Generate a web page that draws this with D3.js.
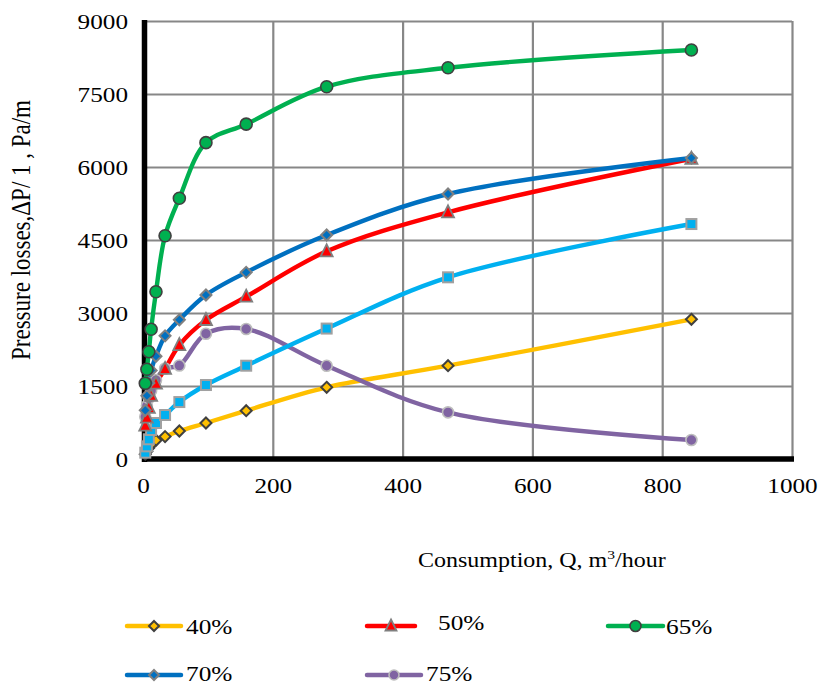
<!DOCTYPE html>
<html><head><meta charset="utf-8">
<script src="https://cdn.jsdelivr.net/npm/d3@7"></script>
<style>body{margin:0;background:#fff} svg{display:block} text{font-family:"Liberation Serif","Times New Roman",serif;fill:#000}</style>
</head><body>
<svg id="c" width="819" height="685"></svg>
<script>
// ---- data ----
const Q = [3.5, 6, 9, 12.5, 20, 34, 56, 97, 159, 283, 470, 845];
const s40 = [100, 160, 230, 300, 385, 460, 575, 740, 993, 1473, 1917, 2870];
const s50 = [685, 850, 1050, 1300, 1550, 1850, 2340, 2856, 3335, 4267, 5069, 6170];
const s65 = [1555, 1843, 2205, 2665, 3437, 4588, 5357, 6500, 6880, 7650, 8040, 8404];
const s70 = [1000, 1300, 1560, 1820, 2110, 2530, 2860, 3370, 3835, 4602, 5445, 6185];
const s75 = [869, 1095, 1247, 1400, 1620, 1860, 1920, 2575, 2671, 1917, 959, 390];
const sExtra = [130, 260, 405, 596, 740, 904, 1170, 1520, 1917, 2680, 3733, 4828];
const xTicks = [0, 200, 400, 600, 800, 1000];
const yTicks = [0, 1500, 3000, 4500, 6000, 7500, 9000];
const legendNames = ["40%", "50%", "65%", "70%", "75%"];

const svg = d3.select("#c");
svg.append("rect").attr("width", 819).attr("height", 685).attr("fill", "#fff");
const L = 143, R = 792, T = 21, B = 459;
const x = d3.scaleLinear().domain([0, 1000]).range([L, R]);
const y = d3.scaleLinear().domain([0, 9000]).range([B, T]);
const SX = 1.2;

// grid + y labels
const gy = svg.append("g").attr("transform", `translate(${L},0)`)
  .call(d3.axisLeft(y).tickValues(yTicks).tickSize(-(R - L)).tickPadding(0).tickFormat(d3.format("d")));
gy.select(".domain").remove();
gy.selectAll("line").attr("stroke", "#878787").attr("stroke-width", 2.2);
gy.selectAll("text").attr("x", null).attr("dy", null)
  .attr("transform", `translate(-15,7.5) scale(${SX},1)`)
  .attr("text-anchor", "end").style("font-size", "21px").attr("fill", "#000");

const gx = svg.append("g").attr("transform", `translate(0,${B})`)
  .call(d3.axisBottom(x).tickValues(xTicks).tickSize(-(B - T)).tickPadding(0).tickFormat(d3.format("d")));
gx.select(".domain").remove();
gx.selectAll("line").attr("stroke", "#878787").attr("stroke-width", 2.2);
gx.selectAll("text").attr("y", null).attr("dy", null)
  .attr("transform", `translate(0,34) scale(${SX},1)`)
  .attr("text-anchor", "middle").style("font-size", "21px").attr("fill", "#000");

// axis black lines
svg.append("line").attr("x1", L + 1.5).attr("x2", L + 1.5).attr("y1", T - 1).attr("y2", B + 3)
  .attr("stroke", "#000").attr("stroke-width", 5.5);
svg.append("line").attr("x1", L - 1).attr("x2", R + 2).attr("y1", B).attr("y2", B)
  .attr("stroke", "#000").attr("stroke-width", 5.5);

// series
const series = [
  {name: "40%", vals: s40, color: "#FFC000", marker: "diamond", fill: "#FFC000", stroke: "#404040", size: 11},
  {name: "75%", vals: s75, color: "#8064A2", marker: "circle", fill: "#8064A2", stroke: "#BDBDBD", size: 11},
  {name: "", vals: sExtra, color: "#00B0F0", marker: "square", fill: "#00B0F0", stroke: "#A0A0A0", size: 11},
  {name: "50%", vals: s50, color: "#FF0000", marker: "triangle", fill: "#FF0000", stroke: "#7F7F7F", size: 12},
  {name: "70%", vals: s70, color: "#0070C0", marker: "diamond", fill: "#0070C0", stroke: "#808080", size: 11},
  {name: "65%", vals: s65, color: "#00B050", marker: "circle", fill: "#00B050", stroke: "#404040", size: 12}
];

const line = d3.line().x(d => x(d[0])).y(d => y(d[1])).curve(d3.curveCatmullRom.alpha(0.5));

function drawMarker(g, type, cx, cy, size, fill, stroke) {
  const h = size / 2;
  if (type === "circle") {
    g.append("circle").attr("cx", cx).attr("cy", cy).attr("r", h).attr("fill", fill).attr("stroke", stroke).attr("stroke-width", 1.6);
  } else if (type === "diamond") {
    g.append("path").attr("d", `M${cx},${cy - h}L${cx + h},${cy}L${cx},${cy + h}L${cx - h},${cy}Z`)
      .attr("fill", fill).attr("stroke", stroke).attr("stroke-width", 2);
  } else if (type === "square") {
    g.append("rect").attr("x", cx - h + 0.5).attr("y", cy - h + 0.5).attr("width", size - 1).attr("height", size - 1)
      .attr("fill", fill).attr("stroke", stroke).attr("stroke-width", 2);
  } else if (type === "triangle") {
    g.append("path").attr("d", `M${cx},${cy - h - 1}L${cx + h},${cy + h - 1}L${cx - h},${cy + h - 1}Z`)
      .attr("fill", fill).attr("stroke", stroke).attr("stroke-width", 1.8);
  }
}

series.forEach(s => {
  const pts = Q.map((q, i) => [q, s.vals[i]]);
  svg.append("path").datum(pts).attr("d", line).attr("fill", "none")
    .attr("stroke", s.color).attr("stroke-width", 4.4).attr("stroke-linejoin", "round");
});
series.forEach(s => {
  const g = svg.append("g");
  Q.forEach((q, i) => drawMarker(g, s.marker, x(q), y(s.vals[i]), s.size, s.fill, s.stroke));
});

// axis titles
svg.append("text").attr("transform", `translate(418,567) scale(${SX},1)`).style("font-size", "20px")
  .html('Consumption, Q, m<tspan dy="-8" style="font-size:13px">3</tspan><tspan dy="8">/hour</tspan>');
svg.append("text").attr("transform", `translate(30,230) rotate(-90) scale(1,${SX})`)
  .attr("text-anchor", "middle").style("font-size", "23px")
  .text("Pressure losses,ΔP/ 1 , Pa/m");

// legend
const leg = [
  {s: series[0], x1: 127, x2: 181, ly: 626, tx: 186, ty: 634},
  {s: series[3], x1: 367, x2: 415, ly: 626, tx: 438, ty: 630},
  {s: series[5], x1: 608, x2: 663, ly: 626, tx: 666, ty: 634},
  {s: series[4], x1: 127, x2: 181, ly: 675, tx: 186, ty: 681},
  {s: series[1], x1: 367, x2: 421, ly: 675, tx: 426, ty: 681}
];
leg.forEach((d, i) => {
  const g = svg.append("g");
  g.append("line").attr("x1", d.x1).attr("x2", d.x2).attr("y1", d.ly).attr("y2", d.ly)
    .attr("stroke", d.s.color).attr("stroke-width", 4.5).attr("stroke-linecap", "round");
  drawMarker(g, d.s.marker, (d.x1 + d.x2) / 2, d.ly, d.s.size - 1, d.s.fill, d.s.stroke);
  g.append("text").attr("transform", `translate(${d.tx},${d.ty}) scale(1.15,1)`).style("font-size", "22px")
    .text(legendNames[i]);
});
</script>
</body></html>
